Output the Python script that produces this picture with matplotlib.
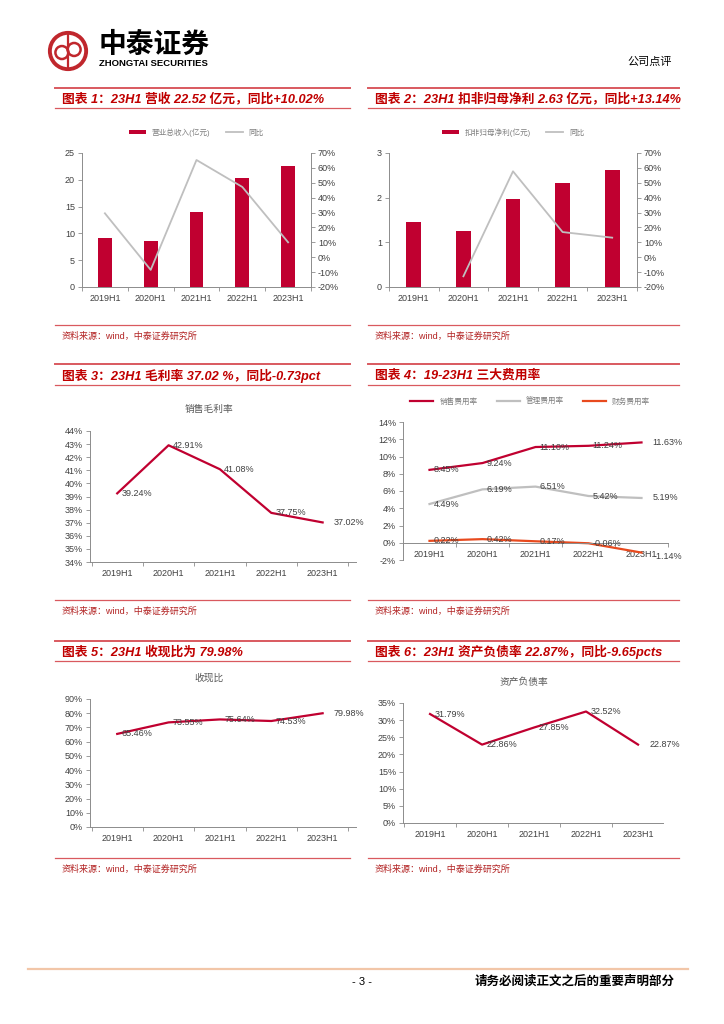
import matplotlib
matplotlib.use('Agg')
import matplotlib.pyplot as plt
from matplotlib.lines import Line2D
from matplotlib.patches import Circle
from matplotlib.ticker import FuncFormatter
import numpy as np

plt.rcParams['font.family'] = ['Liberation Sans', 'Noto Sans CJK SC']

W, H = 724, 1024

# data
periods = ['2019H1', '2020H1', '2021H1', '2022H1', '2023H1']
revenue = [9.2, 8.5, 13.9, 20.4, 22.52]
revenue_yoy = [29.5, -8.5, 65.3, 47.2, 10.02]
np_deduct = [1.46, 1.25, 1.98, 2.32, 2.63]
np_deduct_yoy = [np.nan, -12.8, 57.7, 16.9, 13.14]
gross_margin = [39.24, 42.91, 41.08, 37.75, 37.02]
sell_rate = [8.45, 9.24, 11.10, 11.24, 11.63]
admin_rate = [4.49, 6.19, 6.51, 5.42, 5.19]
fin_rate = [0.22, 0.42, 0.17, -0.06, -1.14]
cash_ratio = [65.46, 73.55, 75.64, 74.53, 79.98]
debt_ratio = [31.79, 22.86, 27.85, 32.52, 22.87]

titles = [
    '图表 1：23H1 营收 22.52 亿元，同比+10.02%',
    '图表 2：23H1 扣非归母净利 2.63 亿元，同比+13.14%',
    '图表 3：23H1 毛利率 37.02 %，同比-0.73pct',
    '图表 4：19-23H1 三大费用率',
    '图表 5：23H1 收现比为 79.98%',
    '图表 6：23H1 资产负债率 22.87%，同比-9.65pcts',
]
source_text = '资料来源：wind，中泰证券研究所'

RED = '#C00030'
TITLE_RED = '#C00000'
BAR_LINE = '#D9595F'
GRAY = '#BFBFBF'
ORANGE = '#E84A1E'
AX = '#8C8C8C'
TXT = '#404040'

fig = plt.figure(figsize=(W / 100, H / 100), dpi=100)
x = np.arange(len(periods))
pct = FuncFormatter(lambda v, p: f'{v:.0f}%')


def rect(l, t, r, b):
    return [l / W, 1 - b / H, (r - l) / W, (b - t) / H]


def hline(x0, x1, y, color, lw):
    fig.add_artist(Line2D([x0 / W, x1 / W], [1 - y / H, 1 - y / H], color=color, lw=lw))


def panel_frame(l, r, top, bottom, src_y, text):
    hline(l, r, top, BAR_LINE, 1.4)
    hline(l, r, bottom, BAR_LINE, 0.9)
    fig.text((l + 7) / W, 1 - ((top + bottom) / 2 + 1) / H, text, fontsize=9.2,
             fontweight='bold', style='italic', color=TITLE_RED, va='center')
    hline(l, r, src_y, BAR_LINE, 0.9)
    fig.text((l + 7) / W, 1 - (src_y + 11) / H, source_text, fontsize=6.5,
             color='#B22222', va='center')


def style_axes(ax, right=False):
    ax.spines['top'].set_visible(False)
    ax.spines['right'].set_visible(right)
    for s in ['left', 'bottom', 'right']:
        ax.spines[s].set_color(AX)
        ax.spines[s].set_linewidth(0.7)
    ax.tick_params(axis='y', length=3, width=0.6, color=AX, labelsize=6.5,
                   labelcolor=TXT, pad=2)
    ax.tick_params(axis='x', which='major', length=0, labelsize=6.5,
                   labelcolor=TXT, pad=5)
    ax.set_xticks(x)
    ax.set_xticklabels(periods)
    ax.set_xticks(np.arange(-0.5, 5, 1), minor=True)
    ax.tick_params(axis='x', which='minor', length=3, width=0.6, color=AX)


def point_labels(ax, vals, color=TXT, last_dx=8, last_dy=0):
    for i, v in enumerate(vals):
        last = i == len(vals) - 1
        dx = last_dx if last else 3
        dy = last_dy if last else 0
        ax.annotate(f'{v:.2f}%', (i, v), xytext=(dx, dy), textcoords='offset points',
                    fontsize=6.5, color=color, va='center', ha='left')


def right_axis(ax, vals, label):
    axr = ax.twinx()
    axr.plot(x, vals, color=GRAY, lw=1.3, label=label)
    axr.set_ylim(-20, 70)
    axr.set_yticks(np.arange(-20, 71, 10))
    axr.yaxis.set_major_formatter(pct)
    for s in ['top', 'left', 'bottom']:
        axr.spines[s].set_visible(False)
    axr.spines['right'].set_color(AX)
    axr.spines['right'].set_linewidth(0.7)
    axr.tick_params(axis='y', length=3, width=0.6, color=AX, labelsize=6.5,
                    labelcolor=TXT, pad=2)
    h1, l1 = ax.get_legend_handles_labels()
    h2, l2 = axr.get_legend_handles_labels()
    ax.legend(h1 + h2, l1 + l2, loc='lower center', bbox_to_anchor=(0.5, 1.07), ncol=2,
              frameon=False, fontsize=5.5, labelcolor='#7F7F7F', handlelength=2.2,
              handleheight=0.6, columnspacing=2)
    return axr


# header
lax = fig.add_axes(rect(47, 30, 89, 72))
lax.set_xlim(-1.1, 1.1)
lax.set_ylim(-1.1, 1.1)
lax.set_aspect('equal')
lax.axis('off')
lax.add_patch(Circle((0, 0), 0.95, fill=False, lw=2.8, color='#C0272D'))
lax.plot([0, 0], [-0.95, 0.95], color='#C0272D', lw=1.6)
lax.add_patch(Circle((-0.32, -0.08), 0.34, fill=False, lw=1.8, color='#C0272D'))
lax.add_patch(Circle((0.32, 0.08), 0.34, fill=False, lw=1.8, color='#C0272D'))
fig.text(99 / W, 1 - 45 / H, '中泰证券', fontsize=20, fontweight='bold', color='black',
         va='center', family=['Noto Sans CJK SC'])
fig.text(99 / W, 1 - 64 / H, 'ZHONGTAI SECURITIES', fontsize=6.8, fontweight='bold',
         color='black', va='center')
fig.text(672 / W, 1 - 62 / H, '公司点评', fontsize=8, color='black', va='center', ha='right')

# panel frames
panel_frame(55, 350, 88, 108, 325, titles[0])
panel_frame(368, 679, 88, 108, 325, titles[1])
panel_frame(55, 350, 364, 385, 600, titles[2])
panel_frame(368, 679, 364, 385, 600, titles[3])
panel_frame(55, 350, 641, 661, 858, titles[4])
panel_frame(368, 679, 641, 661, 858, titles[5])

# chart 1: revenue
ax1 = fig.add_axes(rect(82, 153, 311, 287))
style_axes(ax1)
ax1.bar(x, revenue, width=0.3, color=RED, label='营业总收入(亿元)', zorder=2)
ax1.set_ylim(0, 25)
ax1.set_yticks(np.arange(0, 26, 5))
ax1.set_xlim(-0.5, 4.5)
right_axis(ax1, revenue_yoy, '同比')

# chart 2: deducted net profit
ax2 = fig.add_axes(rect(389, 153, 637, 287))
style_axes(ax2)
ax2.bar(x, np_deduct, width=0.3, color=RED, label='扣非归母净利(亿元)', zorder=2)
ax2.set_ylim(0, 3)
ax2.set_yticks(np.arange(0, 4, 1))
ax2.set_xlim(-0.5, 4.5)
right_axis(ax2, np_deduct_yoy, '同比')

# chart 3: gross margin
ax3 = fig.add_axes(rect(90, 431, 356, 562))
style_axes(ax3)
ax3.plot(x, gross_margin, color=RED, lw=1.6)
ax3.set_ylim(34, 44)
ax3.set_yticks(np.arange(34, 45, 1))
ax3.yaxis.set_major_formatter(pct)
ax3.set_xlim(-0.53, 4.65)
point_labels(ax3, gross_margin)
fig.text(209 / W, 1 - 409 / H, '销售毛利率', fontsize=7, color='#595959', ha='center', va='center')

# chart 4: expense ratios
ax4 = fig.add_axes(rect(403, 422, 668, 560))
style_axes(ax4)
ax4.spines['bottom'].set_position(('data', 0))
ax4.plot(x, sell_rate, color=RED, lw=1.6, label='销售费用率')
ax4.plot(x, admin_rate, color=GRAY, lw=1.6, label='管理费用率')
ax4.plot(x, fin_rate, color=ORANGE, lw=1.6, label='财务费用率')
ax4.set_ylim(-2, 14)
ax4.set_yticks(np.arange(-2, 15, 2))
ax4.yaxis.set_major_formatter(pct)
ax4.set_xlim(-0.5, 4.5)
point_labels(ax4, sell_rate)
point_labels(ax4, admin_rate)
point_labels(ax4, fin_rate, last_dx=9, last_dy=-3)
ax4.legend(loc='lower center', bbox_to_anchor=(0.48, 1.07), ncol=3, frameon=False,
           fontsize=5.5, labelcolor='#7F7F7F', handlelength=3, columnspacing=2.5)

# chart 5: cash collection ratio
ax5 = fig.add_axes(rect(90, 699, 356, 827))
style_axes(ax5)
ax5.plot(x, cash_ratio, color=RED, lw=1.6)
ax5.set_ylim(0, 90)
ax5.set_yticks(np.arange(0, 91, 10))
ax5.yaxis.set_major_formatter(pct)
ax5.set_xlim(-0.53, 4.65)
point_labels(ax5, cash_ratio)
fig.text(209 / W, 1 - 678 / H, '收现比', fontsize=7, color='#595959', ha='center', va='center')

# chart 6: debt ratio
ax6 = fig.add_axes(rect(403, 703, 663, 823))
style_axes(ax6)
ax6.plot(x, debt_ratio, color=RED, lw=1.6)
ax6.set_ylim(0, 35)
ax6.set_yticks(np.arange(0, 36, 5))
ax6.yaxis.set_major_formatter(pct)
ax6.set_xlim(-0.52, 4.48)
point_labels(ax6, debt_ratio)
fig.text(524 / W, 1 - 682 / H, '资产负债率', fontsize=7, color='#595959', ha='center', va='center')

# footer
hline(28, 688, 969, '#F2C6A8', 1.6)
fig.text(362 / W, 1 - 982 / H, '- 3 -', fontsize=8, color='black', ha='center', va='center')
fig.text(675 / W, 1 - 982 / H, '请务必阅读正文之后的重要声明部分', fontsize=9,
         fontweight='bold', color='black', ha='right', va='center')

fig.savefig('out.png', dpi=100)
